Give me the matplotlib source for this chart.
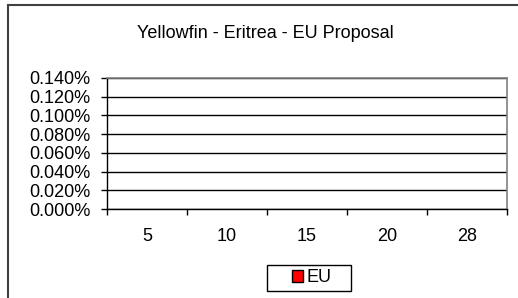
import matplotlib
matplotlib.use("Agg")
import matplotlib.pyplot as plt
from matplotlib.patches import Rectangle, Patch
from matplotlib.ticker import FuncFormatter, FixedLocator
import numpy as np

categories = ['5', '10', '15', '20', '28']
eu_values = [0.0, 0.0, 0.0, 0.0, 0.0]
y_ticks = [0.0, 0.0002, 0.0004, 0.0006, 0.0008, 0.0010, 0.0012, 0.0014]
title = "Yellowfin - Eritrea - EU Proposal"
series_name = "EU"

plt.rcParams['font.family'] = ['Liberation Sans', 'DejaVu Sans']
FS = 13

W, H = 518, 298
fig = plt.figure(figsize=(W / 100, H / 100), dpi=100)
fig.patch.set_facecolor('white')

# outer chart border (left and top visible)
fig.patches.append(Rectangle((8 / W, -0.2), 1.5, 1.2 - 5 / H, transform=fig.transFigure,
                             fill=False, edgecolor='#404040', linewidth=1.5))

ax = fig.add_axes([107 / W, (H - 209) / H, 400 / W, (209 - 78) / H])
x = np.arange(len(categories))
ax.bar(x, eu_values, width=0.6, color='#ff0000', linewidth=0, label=series_name)

ax.set_xlim(-0.5, len(categories) - 0.5)
ax.set_ylim(y_ticks[0], y_ticks[-1])
ax.yaxis.set_major_locator(FixedLocator(y_ticks))
ax.yaxis.set_major_formatter(FuncFormatter(lambda v, p: f"{v * 100:.3f}%"))
ax.grid(axis='y', color='black', linewidth=1)
ax.set_axisbelow(True)

ax.set_xticks(x)
ax.set_xticklabels(categories)
ax.set_xticks(np.arange(len(categories) + 1) - 0.5, minor=True)
ax.tick_params(axis='x', which='major', length=0, pad=14, labelsize=FS)
ax.tick_params(axis='x', which='minor', length=4.3, width=1, direction='out', color='black')
ax.tick_params(axis='y', length=4.3, width=1, direction='out', pad=7.5, labelsize=FS, color='black')

for s in ['left', 'bottom']:
    ax.spines[s].set_color('black')
    ax.spines[s].set_linewidth(1)
for s in ['top', 'right']:
    ax.spines[s].set_color('#808080')
    ax.spines[s].set_linewidth(1.2)

fig.text(265 / W, 1 - 33 / H, title, ha='center', va='center', fontsize=FS)

# legend box
fig.patches.append(Rectangle((267 / W, 1 - 291 / H), 84 / W, 26 / H, transform=fig.transFigure,
                             facecolor='white', edgecolor='black', linewidth=1))
handle = Patch(facecolor='#ff0000', edgecolor='black', linewidth=1)
leg = fig.legend([handle], [series_name], loc='center', bbox_to_anchor=(312 / W, 1 - 278 / H),
                 fontsize=FS, frameon=False, handlelength=0.6, handleheight=0.6,
                 handletextpad=0.2, borderpad=0, borderaxespad=0)

fig.savefig("out.png", dpi=100, facecolor='white')
